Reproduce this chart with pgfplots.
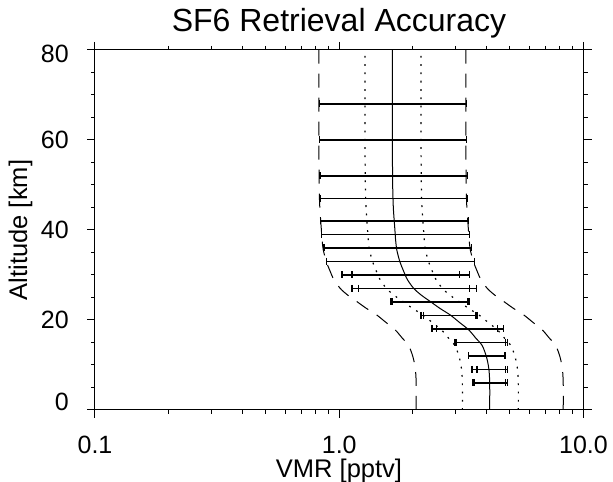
\documentclass[border=0pt]{standalone}
\usepackage{pgfplots}
\usepackage{pgfplotstable}
\pgfplotsset{compat=1.18}
\usepackage{fontspec}
\setmainfont{Liberation Sans}

% alt, profile, dotted lo/hi, dashed lo/hi
\pgfplotstableread{
alt  s      dotlo  dothi  dashlo  dashhi
0    4.13   3.192  5.410  2.065   8.26
6    4.13   3.192  5.410  2.065   8.26
9    4.10   3.169  5.371  2.05    8.20
11   4.04   3.123  5.292  2.02    8.08
12.5 3.97   3.069  5.201  1.985   7.94
14.4 3.84   2.968  5.030  1.92    7.68
16   3.62   2.798  4.742  1.81    7.24
17.8 3.39   2.620  4.441  1.695   6.78
19.5 3.10   2.396  4.061  1.55    6.20
21.1 2.85   2.203  3.734  1.425   5.70
22.6 2.58   1.994  3.380  1.29    5.16
24.1 2.36   1.824  3.092  1.18    4.72
25.5 2.17   1.677  2.843  1.085   4.34
27   2.02   1.561  2.646  1.01    4.04
29   1.90   1.469  2.489  0.95    3.80
31   1.83   1.415  2.397  0.915   3.66
33   1.77   1.368  2.319  0.885   3.54
35.6 1.72   1.330  2.253  0.86    3.44
38   1.70   1.314  2.227  0.85    3.40
40   1.69   1.306  2.214  0.845   3.38
45   1.665  1.287  2.181  0.8325  3.33
50   1.655  1.279  2.168  0.8275  3.31
60   1.65   1.275  2.162  0.825   3.30
80   1.65   1.275  2.162  0.825   3.30
}\profile

\pgfplotstableread{
x     y
0.831 68
3.316 68
nan   nan
0.831 60
3.316 60
nan   nan
0.834 52
3.34  52
nan   nan
0.835 47
3.35  47
nan   nan
0.841 42
3.388 42
nan   nan
0.849 39
3.42  39
nan   nan
0.866 36
3.475 36
nan   nan
0.890 33
3.575 33
nan   nan
1.026 30
3.42  30
nan   nan
1.127 27
3.643 27
nan   nan
1.618 24
3.42  24
nan   nan
2.162 21
3.667 21
nan   nan
2.399 18
4.688 18
nan   nan
2.969 15
4.866 15
nan   nan
3.37  12
4.77  12
nan   nan
3.498 9
4.866 9
nan   nan
3.53  6
4.866 6
}\bars

\pgfplotstableread{
x     y
1.127 30
3.112 30
1.200 27
3.42  27
1.644 24
3.369 24
2.216 21
3.607 21
2.498 18
4.455 18
3.008 15
4.788 15
3.667 9
4.80  9
3.58  6
4.80  6
}\innercaps

\begin{document}
\begin{tikzpicture}[x=1bp,y=1bp]
\useasboundingbox (0,0) rectangle (613,482);
\begin{axis}[
  scale only axis, width=488.5bp, height=360bp,
  at={(95bp,72bp)}, anchor=south west,
  xmode=log, xmin=0.1, xmax=10, ymin=0, ymax=80,
  xtick={0.1,1,10}, xticklabels={0.1,1.0,10.0},
  ytick={0,20,40,60,80},
  yticklabel={\ifcase\ticknum\raisebox{8.5bp}[17.9bp][0pt]{0}\or 20\or 40\or 60\or\raisebox{-4bp}[17.9bp][0pt]{80}\fi},
  minor y tick num=3,
  tick align=outside, tick pos=both,
  xticklabel pos=bottom, yticklabel pos=left,
  major tick length=8bp, minor tick length=4bp,
  axis line style={line width=1bp},
  every tick/.style={black, line width=1bp},
  ticklabel style={font=\fontsize{25bp}{30bp}\selectfont, inner sep=0pt},
  xticklabel style={anchor=base, yshift=-36bp},
  yticklabel style={anchor=east, xshift=-18bp},
  unbounded coords=jump,
]
\addplot[black, line width=1bp, dash pattern=on 14bp off 10bp, smooth] table[x=dashlo, y=alt] {\profile};
\addplot[black, line width=1bp, dash pattern=on 14bp off 10bp, smooth] table[x=dashhi, y=alt] {\profile};
\addplot[black, line width=1.2bp, dash pattern=on 1.8bp off 6.5bp, smooth] table[x=dotlo, y=alt] {\profile};
\addplot[black, line width=1.2bp, dash pattern=on 1.8bp off 6.5bp, smooth] table[x=dothi, y=alt] {\profile};
\addplot[black, line width=1bp, smooth] table[x=s, y=alt] {\profile};
\addplot[black, line width=1.6bp, mark=|, mark size=3.5bp, mark options={line width=1.2bp, solid}] table[x=x, y=y] {\bars};
\addplot[black, only marks, mark=|, mark size=3.5bp, mark options={line width=1.2bp}] table[x=x, y=y] {\innercaps};
\end{axis}
\node[anchor=base, inner sep=0pt, font=\fontsize{32bp}{38bp}\selectfont] at (339,450) {SF6 Retrieval Accuracy};
\node[anchor=base, inner sep=0pt, font=\fontsize{25.5bp}{30bp}\selectfont] at (339,4.5) {VMR [pptv]};
\node[rotate=90, anchor=base, inner sep=0pt, font=\fontsize{25.5bp}{30bp}\selectfont] at (27,252) {Altitude [km]};
\end{tikzpicture}
\end{document}
